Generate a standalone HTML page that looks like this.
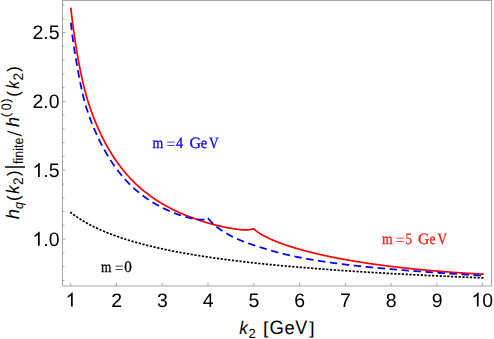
<!DOCTYPE html>
<html><head><meta charset="utf-8"><title>plot</title>
<style>
html,body{margin:0;padding:0;background:#fff;}
svg{display:block;}
text{text-rendering:geometricPrecision;}
</style></head><body>
<svg width="494" height="339" viewBox="0 0 494 339">
<rect x="0" y="0" width="494" height="339" fill="#fff"/>
<rect x="62.5" y="0.5" width="429.0" height="285.45" fill="none" stroke="#a6a6a6" stroke-width="1"/>
<g stroke="#777" stroke-width="0.6"><line x1="62.5" x2="64.5" y1="280.36" y2="280.36"/><line x1="62.5" x2="64.5" y1="266.59" y2="266.59"/><line x1="62.5" x2="64.5" y1="252.82" y2="252.82"/><line x1="62.5" x2="65.7" y1="239.05" y2="239.05"/><line x1="62.5" x2="64.5" y1="225.28" y2="225.28"/><line x1="62.5" x2="64.5" y1="211.51" y2="211.51"/><line x1="62.5" x2="64.5" y1="197.74" y2="197.74"/><line x1="62.5" x2="64.5" y1="183.97" y2="183.97"/><line x1="62.5" x2="65.7" y1="170.20" y2="170.20"/><line x1="62.5" x2="64.5" y1="156.43" y2="156.43"/><line x1="62.5" x2="64.5" y1="142.66" y2="142.66"/><line x1="62.5" x2="64.5" y1="128.89" y2="128.89"/><line x1="62.5" x2="64.5" y1="115.12" y2="115.12"/><line x1="62.5" x2="65.7" y1="101.35" y2="101.35"/><line x1="62.5" x2="64.5" y1="87.58" y2="87.58"/><line x1="62.5" x2="64.5" y1="73.81" y2="73.81"/><line x1="62.5" x2="64.5" y1="60.04" y2="60.04"/><line x1="62.5" x2="64.5" y1="46.27" y2="46.27"/><line x1="62.5" x2="65.7" y1="32.50" y2="32.50"/><line x1="62.5" x2="64.5" y1="18.73" y2="18.73"/><line x1="62.5" x2="64.5" y1="4.96" y2="4.96"/><line x1="70.70" x2="70.70" y1="285.95" y2="282.95"/><line x1="116.47" x2="116.47" y1="285.95" y2="282.95"/><line x1="162.24" x2="162.24" y1="285.95" y2="282.95"/><line x1="208.01" x2="208.01" y1="285.95" y2="282.95"/><line x1="253.78" x2="253.78" y1="285.95" y2="282.95"/><line x1="299.55" x2="299.55" y1="285.95" y2="282.95"/><line x1="345.32" x2="345.32" y1="285.95" y2="282.95"/><line x1="391.09" x2="391.09" y1="285.95" y2="282.95"/><line x1="436.86" x2="436.86" y1="285.95" y2="282.95"/><line x1="482.63" x2="482.63" y1="285.95" y2="282.95"/></g>
<g fill="none" stroke-linejoin="miter">
<path d="M70.75,7.70 L71.25,11.92 L71.75,16.02 L72.25,20.00 L72.75,23.86 L73.25,27.61 L73.75,31.25 L74.25,34.79 L74.75,38.23 L75.25,41.56 L75.75,44.80 L76.25,47.96 L76.75,51.02 L77.25,53.99 L77.75,56.89 L78.25,59.70 L78.75,62.43 L79.25,65.09 L79.75,67.67 L80.25,70.18 L80.75,72.62 L81.25,75.00 L81.75,77.30 L82.25,79.55 L82.75,81.73 L83.25,83.85 L83.75,85.92 L84.25,87.92 L84.75,89.87 L85.25,91.77 L85.75,93.62 L86.25,95.41 L86.75,97.16 L87.25,98.87 L87.75,100.53 L88.25,102.15 L88.75,103.73 L89.25,105.28 L89.75,106.79 L90.25,108.27 L90.75,109.72 L91.25,111.14 L91.75,112.53 L92.25,113.89 L92.75,115.23 L93.25,116.54 L93.75,117.83 L94.25,119.10 L94.75,120.34 L95.25,121.57 L95.75,122.78 L96.25,123.97 L96.75,125.14 L97.25,126.30 L97.75,127.44 L98.25,128.57 L98.75,129.68 L99.25,130.78 L99.75,131.86 L100.25,132.92 L100.75,133.98 L101.25,135.02 L101.75,136.04 L102.25,137.06 L102.75,138.06 L103.25,139.05 L103.75,140.02 L104.25,140.98 L104.75,141.94 L105.25,142.87 L105.75,143.80 L106.25,144.72 L106.75,145.62 L107.25,146.52 L107.75,147.40 L108.25,148.27 L108.75,149.13 L109.25,149.98 L109.75,150.83 L110.25,151.66 L110.75,152.48 L111.25,153.29 L111.75,154.09 L112.25,154.89 L112.75,155.67 L113.25,156.44 L113.75,157.21 L114.25,157.97 L114.75,158.72 L115.25,159.46 L115.75,160.19 L116.25,160.91 L116.75,161.63 L117.25,162.33 L117.75,163.03 L118.25,163.73 L118.75,164.41 L119.25,165.09 L119.75,165.76 L120.25,166.42 L120.75,167.07 L121.25,167.72 L121.75,168.36 L122.25,168.99 L122.75,169.62 L123.25,170.24 L123.75,170.86 L124.25,171.46 L124.75,172.06 L125.25,172.66 L125.75,173.25 L126.25,173.83 L126.75,174.40 L127.25,174.97 L127.75,175.54 L128.25,176.10 L128.75,176.65 L129.25,177.20 L129.75,177.74 L130.25,178.27 L130.75,178.80 L131.25,179.33 L131.75,179.85 L132.25,180.36 L132.75,180.87 L133.25,181.38 L133.75,181.87 L134.25,182.37 L134.75,182.86 L135.25,183.34 L135.75,183.82 L136.25,184.30 L136.75,184.77 L137.25,185.23 L137.75,185.69 L138.25,186.15 L138.75,186.60 L139.25,187.05 L139.75,187.49 L140.25,187.93 L140.75,188.36 L141.25,188.80 L141.75,189.22 L142.25,189.64 L142.75,190.06 L143.25,190.48 L143.75,190.89 L144.25,191.29 L144.75,191.70 L145.25,192.10 L145.75,192.49 L146.25,192.88 L146.75,193.27 L147.25,193.66 L147.75,194.04 L148.25,194.41 L148.75,194.79 L149.25,195.16 L149.75,195.53 L150.25,195.89 L150.75,196.25 L151.25,196.61 L151.75,196.96 L152.25,197.31 L152.75,197.66 L153.25,198.01 L153.75,198.35 L154.25,198.69 L154.75,199.02 L155.25,199.36 L155.75,199.69 L156.25,200.02 L156.75,200.34 L157.25,200.66 L157.75,200.98 L158.25,201.30 L158.75,201.61 L159.25,201.92 L159.75,202.23 L160.25,202.54 L160.75,202.84 L161.25,203.14 L161.75,203.44 L162.25,203.73 L162.75,204.03 L163.25,204.32 L163.75,204.60 L164.25,204.89 L164.75,205.17 L165.25,205.45 L165.75,205.73 L166.25,206.01 L166.75,206.28 L167.25,206.56 L167.75,206.83 L168.25,207.09 L168.75,207.36 L169.25,207.62 L169.75,207.88 L170.25,208.14 L170.75,208.40 L171.25,208.66 L171.75,208.91 L172.25,209.16 L172.75,209.41 L173.25,209.66 L173.75,209.90 L174.25,210.14 L174.75,210.39 L175.25,210.63 L175.75,210.86 L176.25,211.10 L176.75,211.33 L177.25,211.57 L177.75,211.80 L178.25,212.02 L178.75,212.25 L179.25,212.48 L179.75,212.70 L180.25,212.92 L180.75,213.14 L181.25,213.36 L181.75,213.58 L182.25,213.79 L182.75,214.00 L183.25,214.22 L183.75,214.43 L184.25,214.64 L184.75,214.84 L185.25,215.05 L185.75,215.25 L186.25,215.45 L186.75,215.66 L187.25,215.86 L187.75,216.05 L188.25,216.25 L188.75,216.45 L189.25,216.64 L189.75,216.83 L190.25,217.02 L190.75,217.21 L191.25,217.40 L191.75,217.59 L192.25,217.77 L192.75,217.96 L193.25,218.14 L193.75,218.32 L194.25,218.50 L194.75,218.68 L195.25,218.86 L195.75,219.03 L196.25,219.21 L196.75,219.38 L197.25,219.56 L197.75,219.73 L198.25,219.90 L198.75,220.07 L199.25,220.23 L199.75,220.40 L200.25,220.57 L200.75,220.73 L201.25,220.89 L201.75,221.06 L202.25,221.22 L202.75,221.38 L203.25,221.53 L203.75,221.69 L204.25,221.85 L204.75,222.00 L205.25,222.16 L205.75,222.31 L206.25,222.46 L206.75,222.61 L207.25,222.76 L207.75,222.90 L208.25,223.05 L208.75,223.20 L209.25,223.34 L209.75,223.48 L210.25,223.62 L210.75,223.76 L211.25,223.90 L211.75,224.04 L212.25,224.17 L212.75,224.31 L213.25,224.44 L213.75,224.57 L214.25,224.70 L214.75,224.83 L215.25,224.96 L215.75,225.09 L216.25,225.21 L216.75,225.34 L217.25,225.46 L217.75,225.58 L218.25,225.70 L218.75,225.82 L219.25,225.94 L219.75,226.05 L220.25,226.17 L220.75,226.28 L221.25,226.39 L221.75,226.50 L222.25,226.61 L222.75,226.72 L223.25,226.83 L223.75,226.93 L224.25,227.04 L224.75,227.14 L225.25,227.24 L225.75,227.34 L226.25,227.44 L226.75,227.54 L227.25,227.63 L227.75,227.73 L228.25,227.82 L228.75,227.91 L229.25,228.00 L229.75,228.09 L230.25,228.18 L230.75,228.26 L231.25,228.35 L231.75,228.43 L232.25,228.51 L232.75,228.59 L233.25,228.67 L233.75,228.75 L234.25,228.83 L234.75,228.90 L235.25,228.98 L235.75,229.05 L236.25,229.12 L236.75,229.19 L237.25,229.26 L237.75,229.33 L238.25,229.39 L238.75,229.46 L239.25,229.52 L239.75,229.58 L240.25,229.63 L240.75,229.68 L241.25,229.73 L241.75,229.78 L242.25,229.82 L242.75,229.85 L243.25,229.88 L243.75,229.90 L244.25,229.92 L244.75,229.93 L245.25,229.93 L245.75,229.93 L246.25,229.92 L246.75,229.91 L247.25,229.88 L247.75,229.85 L248.25,229.81 L248.75,229.76 L249.25,229.70 L249.75,229.63 L250.25,229.55 L250.75,229.47 L251.25,229.37 L251.75,229.26 L252.25,229.15 L252.75,229.02 L253.25,228.88 L253.75,228.73 L253.80,228.71 L254.30,229.20 L254.80,229.68 L255.30,230.12 L255.80,230.55 L256.30,230.96 L256.80,231.35 L257.30,231.73 L257.80,232.09 L258.30,232.45 L258.80,232.79 L259.30,233.12 L259.80,233.45 L260.30,233.76 L260.80,234.07 L261.30,234.38 L261.80,234.67 L262.30,234.97 L262.80,235.25 L263.30,235.53 L263.80,235.81 L264.30,236.08 L264.80,236.34 L265.30,236.60 L265.80,236.86 L266.30,237.11 L266.80,237.36 L267.30,237.61 L267.80,237.85 L268.30,238.09 L268.80,238.33 L269.30,238.56 L269.80,238.79 L270.30,239.02 L270.80,239.24 L271.30,239.47 L271.80,239.69 L272.30,239.90 L272.80,240.12 L273.30,240.33 L273.80,240.54 L274.30,240.75 L274.80,240.96 L275.30,241.16 L275.80,241.36 L276.30,241.56 L276.80,241.76 L277.30,241.96 L277.80,242.15 L278.30,242.34 L278.80,242.54 L279.30,242.73 L279.80,242.91 L280.30,243.10 L280.80,243.28 L281.30,243.47 L281.80,243.65 L282.30,243.83 L282.80,244.01 L283.30,244.18 L283.80,244.36 L284.30,244.53 L284.80,244.71 L285.30,244.88 L285.80,245.05 L286.30,245.22 L286.80,245.39 L287.30,245.55 L287.80,245.72 L288.30,245.88 L288.80,246.05 L289.30,246.21 L289.80,246.37 L290.30,246.53 L290.80,246.69 L291.30,246.85 L291.80,247.00 L292.30,247.16 L292.80,247.31 L293.30,247.47 L293.80,247.62 L294.30,247.77 L294.80,247.92 L295.30,248.07 L295.80,248.22 L296.30,248.37 L296.80,248.52 L297.30,248.66 L297.80,248.81 L298.30,248.95 L298.80,249.09 L299.30,249.24 L299.80,249.38 L300.30,249.52 L300.80,249.66 L301.30,249.80 L301.80,249.94 L302.30,250.07 L302.80,250.21 L303.30,250.35 L303.80,250.48 L304.30,250.62 L304.80,250.75 L305.30,250.88 L305.80,251.01 L306.30,251.15 L306.80,251.28 L307.30,251.41 L307.80,251.54 L308.30,251.66 L308.80,251.79 L309.30,251.92 L309.80,252.05 L310.30,252.17 L310.80,252.30 L311.30,252.42 L311.80,252.55 L312.30,252.67 L312.80,252.79 L313.30,252.91 L313.80,253.03 L314.30,253.15 L314.80,253.27 L315.30,253.39 L315.80,253.51 L316.30,253.63 L316.80,253.75 L317.30,253.87 L317.80,253.98 L318.30,254.10 L318.80,254.21 L319.30,254.33 L319.80,254.44 L320.30,254.56 L320.80,254.67 L321.30,254.78 L321.80,254.89 L322.30,255.00 L322.80,255.11 L323.30,255.22 L323.80,255.33 L324.30,255.44 L324.80,255.55 L325.30,255.66 L325.80,255.77 L326.30,255.87 L326.80,255.98 L327.30,256.09 L327.80,256.19 L328.30,256.30 L328.80,256.40 L329.30,256.51 L329.80,256.61 L330.30,256.71 L330.80,256.81 L331.30,256.92 L331.80,257.02 L332.30,257.12 L332.80,257.22 L333.30,257.32 L333.80,257.42 L334.30,257.52 L334.80,257.62 L335.30,257.72 L335.80,257.81 L336.30,257.91 L336.80,258.01 L337.30,258.11 L337.80,258.20 L338.30,258.30 L338.80,258.39 L339.30,258.49 L339.80,258.58 L340.30,258.67 L340.80,258.77 L341.30,258.86 L341.80,258.95 L342.30,259.05 L342.80,259.14 L343.30,259.23 L343.80,259.32 L344.30,259.41 L344.80,259.50 L345.30,259.59 L345.80,259.68 L346.30,259.77 L346.80,259.86 L347.30,259.95 L347.80,260.03 L348.30,260.12 L348.80,260.21 L349.30,260.30 L349.80,260.38 L350.30,260.47 L350.80,260.55 L351.30,260.64 L351.80,260.72 L352.30,260.81 L352.80,260.89 L353.30,260.98 L353.80,261.06 L354.30,261.14 L354.80,261.23 L355.30,261.31 L355.80,261.39 L356.30,261.47 L356.80,261.55 L357.30,261.63 L357.80,261.71 L358.30,261.79 L358.80,261.87 L359.30,261.95 L359.80,262.03 L360.30,262.11 L360.80,262.19 L361.30,262.27 L361.80,262.35 L362.30,262.43 L362.80,262.50 L363.30,262.58 L363.80,262.66 L364.30,262.73 L364.80,262.81 L365.30,262.88 L365.80,262.96 L366.30,263.03 L366.80,263.11 L367.30,263.18 L367.80,263.26 L368.30,263.33 L368.80,263.41 L369.30,263.48 L369.80,263.55 L370.30,263.62 L370.80,263.70 L371.30,263.77 L371.80,263.84 L372.30,263.91 L372.80,263.98 L373.30,264.05 L373.80,264.12 L374.30,264.19 L374.80,264.26 L375.30,264.33 L375.80,264.40 L376.30,264.47 L376.80,264.54 L377.30,264.61 L377.80,264.68 L378.30,264.75 L378.80,264.81 L379.30,264.88 L379.80,264.95 L380.30,265.02 L380.80,265.08 L381.30,265.15 L381.80,265.22 L382.30,265.28 L382.80,265.35 L383.30,265.41 L383.80,265.48 L384.30,265.54 L384.80,265.61 L385.30,265.67 L385.80,265.73 L386.30,265.80 L386.80,265.86 L387.30,265.93 L387.80,265.99 L388.30,266.05 L388.80,266.11 L389.30,266.18 L389.80,266.24 L390.30,266.30 L390.80,266.36 L391.30,266.42 L391.80,266.48 L392.30,266.54 L392.80,266.60 L393.30,266.66 L393.80,266.72 L394.30,266.78 L394.80,266.84 L395.30,266.90 L395.80,266.96 L396.30,267.02 L396.80,267.08 L397.30,267.14 L397.80,267.19 L398.30,267.25 L398.80,267.31 L399.30,267.37 L399.80,267.42 L400.30,267.48 L400.80,267.54 L401.30,267.59 L401.80,267.65 L402.30,267.71 L402.80,267.76 L403.30,267.82 L403.80,267.87 L404.30,267.93 L404.80,267.98 L405.30,268.04 L405.80,268.09 L406.30,268.15 L406.80,268.20 L407.30,268.25 L407.80,268.31 L408.30,268.36 L408.80,268.41 L409.30,268.47 L409.80,268.52 L410.30,268.57 L410.80,268.62 L411.30,268.68 L411.80,268.73 L412.30,268.78 L412.80,268.83 L413.30,268.88 L413.80,268.93 L414.30,268.98 L414.80,269.03 L415.30,269.08 L415.80,269.13 L416.30,269.18 L416.80,269.23 L417.30,269.28 L417.80,269.33 L418.30,269.38 L418.80,269.43 L419.30,269.48 L419.80,269.53 L420.30,269.58 L420.80,269.62 L421.30,269.67 L421.80,269.72 L422.30,269.77 L422.80,269.81 L423.30,269.86 L423.80,269.91 L424.30,269.95 L424.80,270.00 L425.30,270.05 L425.80,270.09 L426.30,270.14 L426.80,270.18 L427.30,270.23 L427.80,270.27 L428.30,270.32 L428.80,270.36 L429.30,270.41 L429.80,270.45 L430.30,270.50 L430.80,270.54 L431.30,270.59 L431.80,270.63 L432.30,270.67 L432.80,270.72 L433.30,270.76 L433.80,270.80 L434.30,270.85 L434.80,270.89 L435.30,270.93 L435.80,270.97 L436.30,271.01 L436.80,271.06 L437.30,271.10 L437.80,271.14 L438.30,271.18 L438.80,271.22 L439.30,271.26 L439.80,271.30 L440.30,271.34 L440.80,271.39 L441.30,271.43 L441.80,271.47 L442.30,271.51 L442.80,271.55 L443.30,271.58 L443.80,271.62 L444.30,271.66 L444.80,271.70 L445.30,271.74 L445.80,271.78 L446.30,271.82 L446.80,271.86 L447.30,271.89 L447.80,271.93 L448.30,271.97 L448.80,272.01 L449.30,272.05 L449.80,272.08 L450.30,272.12 L450.80,272.16 L451.30,272.19 L451.80,272.23 L452.30,272.27 L452.80,272.30 L453.30,272.34 L453.80,272.37 L454.30,272.41 L454.80,272.45 L455.30,272.48 L455.80,272.52 L456.30,272.55 L456.80,272.59 L457.30,272.62 L457.80,272.66 L458.30,272.69 L458.80,272.73 L459.30,272.76 L459.80,272.79 L460.30,272.83 L460.80,272.86 L461.30,272.89 L461.80,272.93 L462.30,272.96 L462.80,272.99 L463.30,273.03 L463.80,273.06 L464.30,273.09 L464.80,273.12 L465.30,273.16 L465.80,273.19 L466.30,273.22 L466.80,273.25 L467.30,273.28 L467.80,273.32 L468.30,273.35 L468.80,273.38 L469.30,273.41 L469.80,273.44 L470.30,273.47 L470.80,273.50 L471.30,273.53 L471.80,273.56 L472.30,273.59 L472.80,273.62 L473.30,273.65 L473.80,273.68 L474.30,273.71 L474.80,273.74 L475.30,273.77 L475.80,273.80 L476.30,273.83 L476.80,273.85 L477.30,273.88 L477.80,273.91 L478.30,273.94 L478.80,273.97 L479.30,274.00 L479.80,274.02 L480.30,274.05 L480.80,274.08 L481.30,274.11 L481.80,274.13 L482.30,274.16 L482.80,274.19 L483.30,274.21 L483.80,274.24" stroke="#ff0000" stroke-width="1.7"/>
<path d="M70.80,22.00 L71.30,26.67 L71.80,31.02 L72.30,35.09 L72.80,38.91 L73.30,42.53 L73.80,45.95 L74.30,49.23 L74.80,52.37 L75.30,55.41 L75.80,58.36 L76.30,61.24 L76.80,64.08 L77.30,66.89 L77.80,69.67 L78.30,72.41 L78.80,75.11 L79.30,77.76 L79.80,80.35 L80.30,82.88 L80.80,85.35 L81.30,87.74 L81.80,90.06 L82.30,92.29 L82.80,94.44 L83.30,96.51 L83.80,98.50 L84.30,100.41 L84.80,102.25 L85.30,104.03 L85.80,105.75 L86.30,107.41 L86.80,109.02 L87.30,110.58 L87.80,112.10 L88.30,113.57 L88.80,115.01 L89.30,116.41 L89.80,117.78 L90.30,119.12 L90.80,120.44 L91.30,121.73 L91.80,123.00 L92.30,124.24 L92.80,125.47 L93.30,126.69 L93.80,127.88 L94.30,129.06 L94.80,130.23 L95.30,131.38 L95.80,132.51 L96.30,133.63 L96.80,134.74 L97.30,135.83 L97.80,136.90 L98.30,137.97 L98.80,139.02 L99.30,140.05 L99.80,141.07 L100.30,142.08 L100.80,143.08 L101.30,144.06 L101.80,145.03 L102.30,145.99 L102.80,146.94 L103.30,147.87 L103.80,148.80 L104.30,149.71 L104.80,150.61 L105.30,151.50 L105.80,152.38 L106.30,153.25 L106.80,154.10 L107.30,154.95 L107.80,155.79 L108.30,156.62 L108.80,157.43 L109.30,158.24 L109.80,159.04 L110.30,159.82 L110.80,160.60 L111.30,161.37 L111.80,162.13 L112.30,162.88 L112.80,163.63 L113.30,164.36 L113.80,165.08 L114.30,165.80 L114.80,166.51 L115.30,167.21 L115.80,167.90 L116.30,168.58 L116.80,169.26 L117.30,169.93 L117.80,170.59 L118.30,171.24 L118.80,171.89 L119.30,172.52 L119.80,173.15 L120.30,173.78 L120.80,174.39 L121.30,175.00 L121.80,175.60 L122.30,176.20 L122.80,176.79 L123.30,177.37 L123.80,177.94 L124.30,178.51 L124.80,179.07 L125.30,179.63 L125.80,180.18 L126.30,180.72 L126.80,181.26 L127.30,181.79 L127.80,182.32 L128.30,182.84 L128.80,183.35 L129.30,183.86 L129.80,184.36 L130.30,184.86 L130.80,185.35 L131.30,185.83 L131.80,186.31 L132.30,186.79 L132.80,187.26 L133.30,187.72 L133.80,188.18 L134.30,188.64 L134.80,189.08 L135.30,189.53 L135.80,189.97 L136.30,190.40 L136.80,190.83 L137.30,191.26 L137.80,191.68 L138.30,192.09 L138.80,192.50 L139.30,192.91 L139.80,193.31 L140.30,193.71 L140.80,194.10 L141.30,194.49 L141.80,194.88 L142.30,195.26 L142.80,195.64 L143.30,196.01 L143.80,196.38 L144.30,196.75 L144.80,197.11 L145.30,197.47 L145.80,197.82 L146.30,198.17 L146.80,198.52 L147.30,198.86 L147.80,199.20 L148.30,199.54 L148.80,199.87 L149.30,200.20 L149.80,200.52 L150.30,200.85 L150.80,201.17 L151.30,201.48 L151.80,201.79 L152.30,202.10 L152.80,202.41 L153.30,202.71 L153.80,203.01 L154.30,203.31 L154.80,203.60 L155.30,203.89 L155.80,204.18 L156.30,204.47 L156.80,204.75 L157.30,205.03 L157.80,205.31 L158.30,205.58 L158.80,205.85 L159.30,206.12 L159.80,206.38 L160.30,206.65 L160.80,206.91 L161.30,207.17 L161.80,207.42 L162.30,207.67 L162.80,207.92 L163.30,208.17 L163.80,208.42 L164.30,208.66 L164.80,208.90 L165.30,209.14 L165.80,209.37 L166.30,209.61 L166.80,209.84 L167.30,210.07 L167.80,210.29 L168.30,210.52 L168.80,210.74 L169.30,210.96 L169.80,211.18 L170.30,211.39 L170.80,211.61 L171.30,211.82 L171.80,212.03 L172.30,212.23 L172.80,212.44 L173.30,212.64 L173.80,212.84 L174.30,213.04 L174.80,213.24 L175.30,213.43 L175.80,213.63 L176.30,213.82 L176.80,214.01 L177.30,214.19 L177.80,214.38 L178.30,214.56 L178.80,214.74 L179.30,214.92 L179.80,215.09 L180.30,215.26 L180.80,215.43 L181.30,215.60 L181.80,215.76 L182.30,215.92 L182.80,216.08 L183.30,216.24 L183.80,216.39 L184.30,216.54 L184.80,216.68 L185.30,216.83 L185.80,216.97 L186.30,217.11 L186.80,217.24 L187.30,217.37 L187.80,217.50 L188.30,217.63 L188.80,217.75 L189.30,217.87 L189.80,217.98 L190.30,218.10 L190.80,218.20 L191.30,218.31 L191.80,218.41 L192.30,218.51 L192.80,218.61 L193.30,218.70 L193.80,218.79 L194.30,218.87 L194.80,218.96 L195.30,219.03 L195.80,219.11 L196.30,219.18 L196.80,219.25 L197.30,219.31 L197.80,219.37 L198.30,219.43 L198.80,219.48 L199.30,219.52 L199.80,219.55 L200.30,219.58 L200.80,219.60 L201.30,219.60 L201.80,219.60 L202.30,219.58 L202.80,219.55 L203.30,219.50 L203.80,219.44 L204.30,219.36 L204.80,219.27 L205.30,219.16 L205.80,219.03 L206.30,218.88 L206.80,218.70 L207.30,218.49 L207.80,218.26 L208.00,218.15" stroke="#0000ff" stroke-width="1.75" stroke-dasharray="7.5 4.52" stroke-dashoffset="-0.7"/>
<path d="M208.00,218.10 L208.50,218.74 L209.00,219.36 L209.50,219.95 L210.00,220.52 L210.50,221.08 L211.00,221.61 L211.50,222.13 L212.00,222.64 L212.50,223.13 L213.00,223.61 L213.50,224.08 L214.00,224.53 L214.50,224.98 L215.00,225.41 L215.50,225.84 L216.00,226.26 L216.50,226.67 L217.00,227.07 L217.50,227.46 L218.00,227.84 L218.50,228.22 L219.00,228.59 L219.50,228.96 L220.00,229.31 L220.50,229.66 L221.00,230.01 L221.50,230.34 L222.00,230.68 L222.50,231.00 L223.00,231.33 L223.50,231.64 L224.00,231.95 L224.50,232.26 L225.00,232.57 L225.50,232.87 L226.00,233.16 L226.50,233.45 L227.00,233.74 L227.50,234.03 L228.00,234.31 L228.50,234.59 L229.00,234.87 L229.50,235.14 L230.00,235.41 L230.50,235.67 L231.00,235.93 L231.50,236.19 L232.00,236.45 L232.50,236.70 L233.00,236.95 L233.50,237.20 L234.00,237.44 L234.50,237.68 L235.00,237.92 L235.50,238.15 L236.00,238.38 L236.50,238.61 L237.00,238.84 L237.50,239.06 L238.00,239.28 L238.50,239.49 L239.00,239.71 L239.50,239.92 L240.00,240.12 L240.50,240.33 L241.00,240.53 L241.50,240.74 L242.00,240.93 L242.50,241.13 L243.00,241.33 L243.50,241.52 L244.00,241.71 L244.50,241.90 L245.00,242.09 L245.50,242.27 L246.00,242.46 L246.50,242.64 L247.00,242.82 L247.50,243.00 L248.00,243.18 L248.50,243.35 L249.00,243.53 L249.50,243.70 L250.00,243.88 L250.50,244.05 L251.00,244.22 L251.50,244.39 L252.00,244.56 L252.50,244.73 L253.00,244.89 L253.50,245.06 L254.00,245.23 L254.50,245.39 L255.00,245.55 L255.50,245.72 L256.00,245.88 L256.50,246.04 L257.00,246.20 L257.50,246.36 L258.00,246.52 L258.50,246.68 L259.00,246.84 L259.50,247.00 L260.00,247.16 L260.50,247.32 L261.00,247.48 L261.50,247.64 L262.00,247.79 L262.50,247.95 L263.00,248.11 L263.50,248.26 L264.00,248.42 L264.50,248.57 L265.00,248.73 L265.50,248.88 L266.00,249.04 L266.50,249.19 L267.00,249.34 L267.50,249.49 L268.00,249.65 L268.50,249.80 L269.00,249.95 L269.50,250.09 L270.00,250.24 L270.50,250.39 L271.00,250.54 L271.50,250.68 L272.00,250.83 L272.50,250.97 L273.00,251.11 L273.50,251.26 L274.00,251.40 L274.50,251.54 L275.00,251.68 L275.50,251.82 L276.00,251.95 L276.50,252.09 L277.00,252.23 L277.50,252.36 L278.00,252.49 L278.50,252.63 L279.00,252.76 L279.50,252.89 L280.00,253.02 L280.50,253.15 L281.00,253.27 L281.50,253.40 L282.00,253.53 L282.50,253.65 L283.00,253.77 L283.50,253.90 L284.00,254.02 L284.50,254.14 L285.00,254.26 L285.50,254.38 L286.00,254.50 L286.50,254.62 L287.00,254.74 L287.50,254.85 L288.00,254.97 L288.50,255.08 L289.00,255.20 L289.50,255.31 L290.00,255.42 L290.50,255.53 L291.00,255.64 L291.50,255.75 L292.00,255.86 L292.50,255.97 L293.00,256.08 L293.50,256.19 L294.00,256.29 L294.50,256.40 L295.00,256.50 L295.50,256.61 L296.00,256.71 L296.50,256.82 L297.00,256.92 L297.50,257.02 L298.00,257.12 L298.50,257.22 L299.00,257.32 L299.50,257.42 L300.00,257.52 L300.50,257.62 L301.00,257.72 L301.50,257.81 L302.00,257.91 L302.50,258.00 L303.00,258.10 L303.50,258.19 L304.00,258.29 L304.50,258.38 L305.00,258.47 L305.50,258.57 L306.00,258.66 L306.50,258.75 L307.00,258.84 L307.50,258.93 L308.00,259.02 L308.50,259.11 L309.00,259.20 L309.50,259.28 L310.00,259.37 L310.50,259.46 L311.00,259.54 L311.50,259.63 L312.00,259.72 L312.50,259.80 L313.00,259.89 L313.50,259.97 L314.00,260.05 L314.50,260.14 L315.00,260.22 L315.50,260.30 L316.00,260.38 L316.50,260.46 L317.00,260.54 L317.50,260.62 L318.00,260.70 L318.50,260.78 L319.00,260.86 L319.50,260.94 L320.00,261.02 L320.50,261.10 L321.00,261.17 L321.50,261.25 L322.00,261.33 L322.50,261.40 L323.00,261.48 L323.50,261.55 L324.00,261.63 L324.50,261.70 L325.00,261.78 L325.50,261.85 L326.00,261.93 L326.50,262.00 L327.00,262.07 L327.50,262.14 L328.00,262.22 L328.50,262.29 L329.00,262.36 L329.50,262.43 L330.00,262.50 L330.50,262.57 L331.00,262.64 L331.50,262.71 L332.00,262.78 L332.50,262.85 L333.00,262.91 L333.50,262.98 L334.00,263.05 L334.50,263.12 L335.00,263.18 L335.50,263.25 L336.00,263.32 L336.50,263.38 L337.00,263.45 L337.50,263.51 L338.00,263.58 L338.50,263.64 L339.00,263.71 L339.50,263.77 L340.00,263.84 L340.50,263.90 L341.00,263.96 L341.50,264.03 L342.00,264.09 L342.50,264.15 L343.00,264.21 L343.50,264.28 L344.00,264.34 L344.50,264.40 L345.00,264.46 L345.50,264.52 L346.00,264.58 L346.50,264.64 L347.00,264.70 L347.50,264.76 L348.00,264.82 L348.50,264.88 L349.00,264.94 L349.50,265.00 L350.00,265.06 L350.50,265.11 L351.00,265.17 L351.50,265.23 L352.00,265.29 L352.50,265.34 L353.00,265.40 L353.50,265.46 L354.00,265.52 L354.50,265.57 L355.00,265.63 L355.50,265.68 L356.00,265.74 L356.50,265.79 L357.00,265.85 L357.50,265.90 L358.00,265.96 L358.50,266.01 L359.00,266.07 L359.50,266.12 L360.00,266.17 L360.50,266.23 L361.00,266.28 L361.50,266.33 L362.00,266.39 L362.50,266.44 L363.00,266.49 L363.50,266.55 L364.00,266.60 L364.50,266.65 L365.00,266.70 L365.50,266.75 L366.00,266.80 L366.50,266.85 L367.00,266.91 L367.50,266.96 L368.00,267.01 L368.50,267.06 L369.00,267.11 L369.50,267.16 L370.00,267.21 L370.50,267.26 L371.00,267.31 L371.50,267.36 L372.00,267.40 L372.50,267.45 L373.00,267.50 L373.50,267.55 L374.00,267.60 L374.50,267.65 L375.00,267.69 L375.50,267.74 L376.00,267.79 L376.50,267.84 L377.00,267.89 L377.50,267.93 L378.00,267.98 L378.50,268.03 L379.00,268.07 L379.50,268.12 L380.00,268.17 L380.50,268.21 L381.00,268.26 L381.50,268.30 L382.00,268.35 L382.50,268.40 L383.00,268.44 L383.50,268.49 L384.00,268.53 L384.50,268.58 L385.00,268.62 L385.50,268.67 L386.00,268.71 L386.50,268.76 L387.00,268.80 L387.50,268.84 L388.00,268.89 L388.50,268.93 L389.00,268.98 L389.50,269.02 L390.00,269.06 L390.50,269.11 L391.00,269.15 L391.50,269.19 L392.00,269.24 L392.50,269.28 L393.00,269.32 L393.50,269.36 L394.00,269.41 L394.50,269.45 L395.00,269.49 L395.50,269.53 L396.00,269.57 L396.50,269.62 L397.00,269.66 L397.50,269.70 L398.00,269.74 L398.50,269.78 L399.00,269.82 L399.50,269.87 L400.00,269.91 L400.50,269.95 L401.00,269.99 L401.50,270.03 L402.00,270.07 L402.50,270.11 L403.00,270.15 L403.50,270.19 L404.00,270.23 L404.50,270.27 L405.00,270.31 L405.50,270.35 L406.00,270.39 L406.50,270.43 L407.00,270.47 L407.50,270.51 L408.00,270.55 L408.50,270.59 L409.00,270.63 L409.50,270.67 L410.00,270.70 L410.50,270.74 L411.00,270.78 L411.50,270.82 L412.00,270.86 L412.50,270.90 L413.00,270.94 L413.50,270.97 L414.00,271.01 L414.50,271.05 L415.00,271.09 L415.50,271.13 L416.00,271.16 L416.50,271.20 L417.00,271.24 L417.50,271.28 L418.00,271.32 L418.50,271.35 L419.00,271.39 L419.50,271.43 L420.00,271.46 L420.50,271.50 L421.00,271.54 L421.50,271.58 L422.00,271.61 L422.50,271.65 L423.00,271.69 L423.50,271.72 L424.00,271.76 L424.50,271.80 L425.00,271.83 L425.50,271.87 L426.00,271.90 L426.50,271.94 L427.00,271.98 L427.50,272.01 L428.00,272.05 L428.50,272.08 L429.00,272.12 L429.50,272.16 L430.00,272.19 L430.50,272.23 L431.00,272.26 L431.50,272.30 L432.00,272.33 L432.50,272.37 L433.00,272.40 L433.50,272.44 L434.00,272.48 L434.50,272.51 L435.00,272.55 L435.50,272.58 L436.00,272.62 L436.50,272.65 L437.00,272.68 L437.50,272.72 L438.00,272.75 L438.50,272.79 L439.00,272.82 L439.50,272.86 L440.00,272.89 L440.50,272.93 L441.00,272.96 L441.50,273.00 L442.00,273.03 L442.50,273.06 L443.00,273.10 L443.50,273.13 L444.00,273.17 L444.50,273.20 L445.00,273.23 L445.50,273.27 L446.00,273.30 L446.50,273.34 L447.00,273.37 L447.50,273.40 L448.00,273.44 L448.50,273.47 L449.00,273.50 L449.50,273.54 L450.00,273.57 L450.50,273.60 L451.00,273.64 L451.50,273.67 L452.00,273.70 L452.50,273.74 L453.00,273.77 L453.50,273.80 L454.00,273.84 L454.50,273.87 L455.00,273.90 L455.50,273.94 L456.00,273.97 L456.50,274.00 L457.00,274.03 L457.50,274.07 L458.00,274.10 L458.50,274.13 L459.00,274.17 L459.50,274.20 L460.00,274.23 L460.50,274.26 L461.00,274.30 L461.50,274.33 L462.00,274.36 L462.50,274.39 L463.00,274.43 L463.50,274.46 L464.00,274.49 L464.50,274.52 L465.00,274.55 L465.50,274.59 L466.00,274.62 L466.50,274.65 L467.00,274.68 L467.50,274.72 L468.00,274.75 L468.50,274.78 L469.00,274.81 L469.50,274.84 L470.00,274.88 L470.50,274.91 L471.00,274.94 L471.50,274.97 L472.00,275.00 L472.50,275.04 L473.00,275.07 L473.50,275.10 L474.00,275.13 L474.50,275.16 L475.00,275.19 L475.50,275.23 L476.00,275.26 L476.50,275.29 L477.00,275.32 L477.50,275.35 L478.00,275.38 L478.50,275.42 L479.00,275.45 L479.50,275.48 L480.00,275.51 L480.50,275.54 L481.00,275.57 L481.50,275.60 L482.00,275.64 L482.50,275.67 L483.00,275.70" stroke="#0000ff" stroke-width="1.75" stroke-dasharray="7.5 4.51"/>
<path d="M70.20,212.09 L70.70,212.48 L71.20,212.87 L71.70,213.25 L72.20,213.63 L72.70,214.00 L73.20,214.37 L73.70,214.73 L74.20,215.09 L74.70,215.45 L75.20,215.80 L75.70,216.15 L76.20,216.50 L76.70,216.84 L77.20,217.18 L77.70,217.51 L78.20,217.84 L78.70,218.17 L79.20,218.49 L79.70,218.82 L80.20,219.13 L80.70,219.45 L81.20,219.76 L81.70,220.07 L82.20,220.38 L82.70,220.68 L83.20,220.98 L83.70,221.28 L84.20,221.57 L84.70,221.86 L85.20,222.15 L85.70,222.44 L86.20,222.72 L86.70,223.00 L87.20,223.28 L87.70,223.55 L88.20,223.83 L88.70,224.10 L89.20,224.37 L89.70,224.63 L90.20,224.90 L90.70,225.16 L91.20,225.42 L91.70,225.68 L92.20,225.93 L92.70,226.18 L93.20,226.43 L93.70,226.68 L94.20,226.93 L94.70,227.17 L95.20,227.42 L95.70,227.66 L96.20,227.89 L96.70,228.13 L97.20,228.37 L97.70,228.60 L98.20,228.83 L98.70,229.06 L99.20,229.29 L99.70,229.51 L100.20,229.74 L100.70,229.96 L101.20,230.18 L101.70,230.40 L102.20,230.62 L102.70,230.83 L103.20,231.05 L103.70,231.26 L104.20,231.47 L104.70,231.68 L105.20,231.89 L105.70,232.09 L106.20,232.30 L106.70,232.50 L107.20,232.70 L107.70,232.90 L108.20,233.10 L108.70,233.30 L109.20,233.50 L109.70,233.69 L110.20,233.89 L110.70,234.08 L111.20,234.27 L111.70,234.46 L112.20,234.65 L112.70,234.83 L113.20,235.02 L113.70,235.20 L114.20,235.39 L114.70,235.57 L115.20,235.75 L115.70,235.93 L116.20,236.11 L116.70,236.29 L117.20,236.46 L117.70,236.64 L118.20,236.81 L118.70,236.99 L119.20,237.16 L119.70,237.33 L120.20,237.50 L120.70,237.67 L121.20,237.83 L121.70,238.00 L122.20,238.17 L122.70,238.33 L123.20,238.49 L123.70,238.66 L124.20,238.82 L124.70,238.98 L125.20,239.14 L125.70,239.30 L126.20,239.45 L126.70,239.61 L127.20,239.77 L127.70,239.92 L128.20,240.08 L128.70,240.23 L129.20,240.38 L129.70,240.53 L130.20,240.68 L130.70,240.83 L131.20,240.98 L131.70,241.13 L132.20,241.28 L132.70,241.42 L133.20,241.57 L133.70,241.71 L134.20,241.86 L134.70,242.00 L135.20,242.14 L135.70,242.28 L136.20,242.42 L136.70,242.56 L137.20,242.70 L137.70,242.84 L138.20,242.98 L138.70,243.12 L139.20,243.25 L139.70,243.39 L140.20,243.52 L140.70,243.66 L141.20,243.79 L141.70,243.92 L142.20,244.05 L142.70,244.19 L143.20,244.32 L143.70,244.45 L144.20,244.58 L144.70,244.70 L145.20,244.83 L145.70,244.96 L146.20,245.09 L146.70,245.21 L147.20,245.34 L147.70,245.46 L148.20,245.59 L148.70,245.71 L149.20,245.83 L149.70,245.95 L150.20,246.08 L150.70,246.20 L151.20,246.32 L151.70,246.44 L152.20,246.56 L152.70,246.67 L153.20,246.79 L153.70,246.91 L154.20,247.03 L154.70,247.14 L155.20,247.26 L155.70,247.37 L156.20,247.49 L156.70,247.60 L157.20,247.72 L157.70,247.83 L158.20,247.94 L158.70,248.05 L159.20,248.16 L159.70,248.28 L160.20,248.39 L160.70,248.50 L161.20,248.61 L161.70,248.71 L162.20,248.82 L162.70,248.93 L163.20,249.04 L163.70,249.14 L164.20,249.25 L164.70,249.36 L165.20,249.46 L165.70,249.57 L166.20,249.67 L166.70,249.78 L167.20,249.88 L167.70,249.98 L168.20,250.08 L168.70,250.19 L169.20,250.29 L169.70,250.39 L170.20,250.49 L170.70,250.59 L171.20,250.69 L171.70,250.79 L172.20,250.89 L172.70,250.99 L173.20,251.09 L173.70,251.18 L174.20,251.28 L174.70,251.38 L175.20,251.48 L175.70,251.57 L176.20,251.67 L176.70,251.76 L177.20,251.86 L177.70,251.95 L178.20,252.05 L178.70,252.14 L179.20,252.23 L179.70,252.33 L180.20,252.42 L180.70,252.51 L181.20,252.60 L181.70,252.69 L182.20,252.79 L182.70,252.88 L183.20,252.97 L183.70,253.06 L184.20,253.15 L184.70,253.23 L185.20,253.32 L185.70,253.41 L186.20,253.50 L186.70,253.59 L187.20,253.68 L187.70,253.76 L188.20,253.85 L188.70,253.94 L189.20,254.02 L189.70,254.11 L190.20,254.19 L190.70,254.28 L191.20,254.36 L191.70,254.45 L192.20,254.53 L192.70,254.61 L193.20,254.70 L193.70,254.78 L194.20,254.86 L194.70,254.95 L195.20,255.03 L195.70,255.11 L196.20,255.19 L196.70,255.27 L197.20,255.35 L197.70,255.43 L198.20,255.51 L198.70,255.59 L199.20,255.67 L199.70,255.75 L200.20,255.83 L200.70,255.91 L201.20,255.99 L201.70,256.07 L202.20,256.14 L202.70,256.22 L203.20,256.30 L203.70,256.38 L204.20,256.45 L204.70,256.53 L205.20,256.60 L205.70,256.68 L206.20,256.76 L206.70,256.83 L207.20,256.91 L207.70,256.98 L208.20,257.06 L208.70,257.13 L209.20,257.20 L209.70,257.28 L210.20,257.35 L210.70,257.42 L211.20,257.50 L211.70,257.57 L212.20,257.64 L212.70,257.71 L213.20,257.79 L213.70,257.86 L214.20,257.93 L214.70,258.00 L215.20,258.07 L215.70,258.14 L216.20,258.21 L216.70,258.28 L217.20,258.35 L217.70,258.42 L218.20,258.49 L218.70,258.56 L219.20,258.63 L219.70,258.70 L220.20,258.76 L220.70,258.83 L221.20,258.90 L221.70,258.97 L222.20,259.03 L222.70,259.10 L223.20,259.17 L223.70,259.24 L224.20,259.30 L224.70,259.37 L225.20,259.43 L225.70,259.50 L226.20,259.57 L226.70,259.63 L227.20,259.70 L227.70,259.76 L228.20,259.83 L228.70,259.89 L229.20,259.95 L229.70,260.02 L230.20,260.08 L230.70,260.15 L231.20,260.21 L231.70,260.27 L232.20,260.34 L232.70,260.40 L233.20,260.46 L233.70,260.52 L234.20,260.59 L234.70,260.65 L235.20,260.71 L235.70,260.77 L236.20,260.83 L236.70,260.89 L237.20,260.95 L237.70,261.01 L238.20,261.08 L238.70,261.14 L239.20,261.20 L239.70,261.26 L240.20,261.32 L240.70,261.37 L241.20,261.43 L241.70,261.49 L242.20,261.55 L242.70,261.61 L243.20,261.67 L243.70,261.73 L244.20,261.79 L244.70,261.84 L245.20,261.90 L245.70,261.96 L246.20,262.02 L246.70,262.08 L247.20,262.13 L247.70,262.19 L248.20,262.25 L248.70,262.30 L249.20,262.36 L249.70,262.42 L250.20,262.47 L250.70,262.53 L251.20,262.58 L251.70,262.64 L252.20,262.69 L252.70,262.75 L253.20,262.80 L253.70,262.86 L254.20,262.91 L254.70,262.97 L255.20,263.02 L255.70,263.08 L256.20,263.13 L256.70,263.18 L257.20,263.24 L257.70,263.29 L258.20,263.35 L258.70,263.40 L259.20,263.45 L259.70,263.50 L260.20,263.56 L260.70,263.61 L261.20,263.66 L261.70,263.71 L262.20,263.77 L262.70,263.82 L263.20,263.87 L263.70,263.92 L264.20,263.97 L264.70,264.02 L265.20,264.08 L265.70,264.13 L266.20,264.18 L266.70,264.23 L267.20,264.28 L267.70,264.33 L268.20,264.38 L268.70,264.43 L269.20,264.48 L269.70,264.53 L270.20,264.58 L270.70,264.63 L271.20,264.68 L271.70,264.73 L272.20,264.78 L272.70,264.83 L273.20,264.87 L273.70,264.92 L274.20,264.97 L274.70,265.02 L275.20,265.07 L275.70,265.12 L276.20,265.17 L276.70,265.21 L277.20,265.26 L277.70,265.31 L278.20,265.36 L278.70,265.40 L279.20,265.45 L279.70,265.50 L280.20,265.54 L280.70,265.59 L281.20,265.64 L281.70,265.68 L282.20,265.73 L282.70,265.78 L283.20,265.82 L283.70,265.87 L284.20,265.92 L284.70,265.96 L285.20,266.01 L285.70,266.05 L286.20,266.10 L286.70,266.14 L287.20,266.19 L287.70,266.23 L288.20,266.28 L288.70,266.32 L289.20,266.37 L289.70,266.41 L290.20,266.46 L290.70,266.50 L291.20,266.55 L291.70,266.59 L292.20,266.63 L292.70,266.68 L293.20,266.72 L293.70,266.76 L294.20,266.81 L294.70,266.85 L295.20,266.89 L295.70,266.94 L296.20,266.98 L296.70,267.02 L297.20,267.07 L297.70,267.11 L298.20,267.15 L298.70,267.19 L299.20,267.24 L299.70,267.28 L300.20,267.32 L300.70,267.36 L301.20,267.41 L301.70,267.45 L302.20,267.49 L302.70,267.53 L303.20,267.57 L303.70,267.61 L304.20,267.65 L304.70,267.70 L305.20,267.74 L305.70,267.78 L306.20,267.82 L306.70,267.86 L307.20,267.90 L307.70,267.94 L308.20,267.98 L308.70,268.02 L309.20,268.06 L309.70,268.10 L310.20,268.14 L310.70,268.18 L311.20,268.22 L311.70,268.26 L312.20,268.30 L312.70,268.34 L313.20,268.38 L313.70,268.42 L314.20,268.46 L314.70,268.50 L315.20,268.54 L315.70,268.58 L316.20,268.62 L316.70,268.65 L317.20,268.69 L317.70,268.73 L318.20,268.77 L318.70,268.81 L319.20,268.85 L319.70,268.88 L320.20,268.92 L320.70,268.96 L321.20,269.00 L321.70,269.04 L322.20,269.07 L322.70,269.11 L323.20,269.15 L323.70,269.19 L324.20,269.22 L324.70,269.26 L325.20,269.30 L325.70,269.34 L326.20,269.37 L326.70,269.41 L327.20,269.45 L327.70,269.48 L328.20,269.52 L328.70,269.56 L329.20,269.59 L329.70,269.63 L330.20,269.67 L330.70,269.70 L331.20,269.74 L331.70,269.78 L332.20,269.81 L332.70,269.85 L333.20,269.88 L333.70,269.92 L334.20,269.95 L334.70,269.99 L335.20,270.03 L335.70,270.06 L336.20,270.10 L336.70,270.13 L337.20,270.17 L337.70,270.20 L338.20,270.24 L338.70,270.27 L339.20,270.31 L339.70,270.34 L340.20,270.38 L340.70,270.41 L341.20,270.45 L341.70,270.48 L342.20,270.51 L342.70,270.55 L343.20,270.58 L343.70,270.62 L344.20,270.65 L344.70,270.69 L345.20,270.72 L345.70,270.75 L346.20,270.79 L346.70,270.82 L347.20,270.85 L347.70,270.89 L348.20,270.92 L348.70,270.95 L349.20,270.99 L349.70,271.02 L350.20,271.05 L350.70,271.09 L351.20,271.12 L351.70,271.15 L352.20,271.19 L352.70,271.22 L353.20,271.25 L353.70,271.28 L354.20,271.32 L354.70,271.35 L355.20,271.38 L355.70,271.41 L356.20,271.45 L356.70,271.48 L357.20,271.51 L357.70,271.54 L358.20,271.58 L358.70,271.61 L359.20,271.64 L359.70,271.67 L360.20,271.70 L360.70,271.74 L361.20,271.77 L361.70,271.80 L362.20,271.83 L362.70,271.86 L363.20,271.89 L363.70,271.92 L364.20,271.96 L364.70,271.99 L365.20,272.02 L365.70,272.05 L366.20,272.08 L366.70,272.11 L367.20,272.14 L367.70,272.17 L368.20,272.20 L368.70,272.23 L369.20,272.26 L369.70,272.29 L370.20,272.32 L370.70,272.36 L371.20,272.39 L371.70,272.42 L372.20,272.45 L372.70,272.48 L373.20,272.51 L373.70,272.54 L374.20,272.57 L374.70,272.60 L375.20,272.63 L375.70,272.66 L376.20,272.69 L376.70,272.72 L377.20,272.74 L377.70,272.77 L378.20,272.80 L378.70,272.83 L379.20,272.86 L379.70,272.89 L380.20,272.92 L380.70,272.95 L381.20,272.98 L381.70,273.01 L382.20,273.04 L382.70,273.07 L383.20,273.10 L383.70,273.12 L384.20,273.15 L384.70,273.18 L385.20,273.21 L385.70,273.24 L386.20,273.27 L386.70,273.30 L387.20,273.32 L387.70,273.35 L388.20,273.38 L388.70,273.41 L389.20,273.44 L389.70,273.47 L390.20,273.49 L390.70,273.52 L391.20,273.55 L391.70,273.58 L392.20,273.61 L392.70,273.63 L393.20,273.66 L393.70,273.69 L394.20,273.72 L394.70,273.74 L395.20,273.77 L395.70,273.80 L396.20,273.83 L396.70,273.85 L397.20,273.88 L397.70,273.91 L398.20,273.94 L398.70,273.96 L399.20,273.99 L399.70,274.02 L400.20,274.04 L400.70,274.07 L401.20,274.10 L401.70,274.12 L402.20,274.15 L402.70,274.18 L403.20,274.20 L403.70,274.23 L404.20,274.26 L404.70,274.28 L405.20,274.31 L405.70,274.34 L406.20,274.36 L406.70,274.39 L407.20,274.42 L407.70,274.44 L408.20,274.47 L408.70,274.49 L409.20,274.52 L409.70,274.55 L410.20,274.57 L410.70,274.60 L411.20,274.62 L411.70,274.65 L412.20,274.68 L412.70,274.70 L413.20,274.73 L413.70,274.75 L414.20,274.78 L414.70,274.80 L415.20,274.83 L415.70,274.86 L416.20,274.88 L416.70,274.91 L417.20,274.93 L417.70,274.96 L418.20,274.98 L418.70,275.01 L419.20,275.03 L419.70,275.06 L420.20,275.08 L420.70,275.11 L421.20,275.13 L421.70,275.16 L422.20,275.18 L422.70,275.21 L423.20,275.23 L423.70,275.26 L424.20,275.28 L424.70,275.31 L425.20,275.33 L425.70,275.35 L426.20,275.38 L426.70,275.40 L427.20,275.43 L427.70,275.45 L428.20,275.48 L428.70,275.50 L429.20,275.53 L429.70,275.55 L430.20,275.57 L430.70,275.60 L431.20,275.62 L431.70,275.65 L432.20,275.67 L432.70,275.69 L433.20,275.72 L433.70,275.74 L434.20,275.77 L434.70,275.79 L435.20,275.81 L435.70,275.84 L436.20,275.86 L436.70,275.88 L437.20,275.91 L437.70,275.93 L438.20,275.95 L438.70,275.98 L439.20,276.00 L439.70,276.02 L440.20,276.05 L440.70,276.07 L441.20,276.09 L441.70,276.12 L442.20,276.14 L442.70,276.16 L443.20,276.19 L443.70,276.21 L444.20,276.23 L444.70,276.26 L445.20,276.28 L445.70,276.30 L446.20,276.32 L446.70,276.35 L447.20,276.37 L447.70,276.39 L448.20,276.41 L448.70,276.44 L449.20,276.46 L449.70,276.48 L450.20,276.51 L450.70,276.53 L451.20,276.55 L451.70,276.57 L452.20,276.59 L452.70,276.62 L453.20,276.64 L453.70,276.66 L454.20,276.68 L454.70,276.71 L455.20,276.73 L455.70,276.75 L456.20,276.77 L456.70,276.79 L457.20,276.82 L457.70,276.84 L458.20,276.86 L458.70,276.88 L459.20,276.90 L459.70,276.93 L460.20,276.95 L460.70,276.97 L461.20,276.99 L461.70,277.01 L462.20,277.03 L462.70,277.06 L463.20,277.08 L463.70,277.10 L464.20,277.12 L464.70,277.14 L465.20,277.16 L465.70,277.18 L466.20,277.21 L466.70,277.23 L467.20,277.25 L467.70,277.27 L468.20,277.29 L468.70,277.31 L469.20,277.33 L469.70,277.35 L470.20,277.37 L470.70,277.40 L471.20,277.42 L471.70,277.44 L472.20,277.46 L472.70,277.48 L473.20,277.50 L473.70,277.52 L474.20,277.54 L474.70,277.56 L475.20,277.58 L475.70,277.60 L476.20,277.62 L476.70,277.65 L477.20,277.67 L477.70,277.69 L478.20,277.71 L478.70,277.73 L479.20,277.75 L479.70,277.77 L480.20,277.79 L480.70,277.81 L481.20,277.83 L481.70,277.85 L482.20,277.87 L482.70,277.89 L483.20,277.91 L483.70,277.93 L483.80,277.93" stroke="#000" stroke-width="1.7" stroke-dasharray="2.2500 1.5394"/>
</g>
<g opacity="0.999"><text x="32.51" y="39.22" style="font-family:&quot;Liberation Sans&quot;,sans-serif;font-size:19.5px" fill="#000">2</text><text x="43.35" y="39.22" style="font-family:&quot;Liberation Sans&quot;,sans-serif;font-size:19.5px" fill="#000">.</text><text x="48.77" y="39.22" style="font-family:&quot;Liberation Sans&quot;,sans-serif;font-size:19.5px" fill="#000">5</text><text x="32.45" y="108.07" style="font-family:&quot;Liberation Sans&quot;,sans-serif;font-size:19.5px" fill="#000">2</text><text x="43.30" y="108.07" style="font-family:&quot;Liberation Sans&quot;,sans-serif;font-size:19.5px" fill="#000">.</text><text x="48.72" y="108.07" style="font-family:&quot;Liberation Sans&quot;,sans-serif;font-size:19.5px" fill="#000">0</text><path d="M763 0H583V1147Q518 1085 412.5 1023T223 930V1104Q374 1175 487 1276T647 1472H763Z" transform="translate(32.51,176.92) scale(0.00952,-0.00952)" fill="#000"/><text x="43.35" y="176.92" style="font-family:&quot;Liberation Sans&quot;,sans-serif;font-size:19.5px" fill="#000">.</text><text x="48.77" y="176.92" style="font-family:&quot;Liberation Sans&quot;,sans-serif;font-size:19.5px" fill="#000">5</text><path d="M763 0H583V1147Q518 1085 412.5 1023T223 930V1104Q374 1175 487 1276T647 1472H763Z" transform="translate(32.45,245.77) scale(0.00952,-0.00952)" fill="#000"/><text x="43.30" y="245.77" style="font-family:&quot;Liberation Sans&quot;,sans-serif;font-size:19.5px" fill="#000">.</text><text x="48.72" y="245.77" style="font-family:&quot;Liberation Sans&quot;,sans-serif;font-size:19.5px" fill="#000">0</text><path d="M763 0H583V1147Q518 1085 412.5 1023T223 930V1104Q374 1175 487 1276T647 1472H763Z" transform="translate(65.48,306.50) scale(0.00952,-0.00952)" fill="#000"/><text x="111.25" y="306.50" style="font-family:&quot;Liberation Sans&quot;,sans-serif;font-size:19.5px" fill="#000">2</text><text x="157.02" y="306.50" style="font-family:&quot;Liberation Sans&quot;,sans-serif;font-size:19.5px" fill="#000">3</text><text x="202.79" y="306.50" style="font-family:&quot;Liberation Sans&quot;,sans-serif;font-size:19.5px" fill="#000">4</text><text x="248.56" y="306.50" style="font-family:&quot;Liberation Sans&quot;,sans-serif;font-size:19.5px" fill="#000">5</text><text x="294.33" y="306.50" style="font-family:&quot;Liberation Sans&quot;,sans-serif;font-size:19.5px" fill="#000">6</text><text x="340.10" y="306.50" style="font-family:&quot;Liberation Sans&quot;,sans-serif;font-size:19.5px" fill="#000">7</text><text x="385.87" y="306.50" style="font-family:&quot;Liberation Sans&quot;,sans-serif;font-size:19.5px" fill="#000">8</text><text x="431.64" y="306.50" style="font-family:&quot;Liberation Sans&quot;,sans-serif;font-size:19.5px" fill="#000">9</text><path d="M763 0H583V1147Q518 1085 412.5 1023T223 930V1104Q374 1175 487 1276T647 1472H763Z" transform="translate(471.34,306.50) scale(0.00952,-0.00952)" fill="#000"/><text x="482.18" y="306.50" style="font-family:&quot;Liberation Sans&quot;,sans-serif;font-size:19.5px" fill="#000">0</text></g>
<g opacity="0.999"><text transform="translate(152.51,147.60) scale(0.8752,1)" style="font-family:&quot;Liberation Serif&quot;,serif;font-size:15.8px" fill="#0000ff" stroke="#0000ff" stroke-width="0.3">m</text><text transform="translate(166.42,149.10) scale(0.9929,1)" style="font-family:&quot;Liberation Serif&quot;,serif;font-size:15.8px" fill="#0000ff" stroke="#0000ff" stroke-width="0">=</text><text transform="translate(175.97,147.60) scale(0.8986,1)" style="font-family:&quot;Liberation Serif&quot;,serif;font-size:15.8px" fill="#0000ff" stroke="#0000ff" stroke-width="0.3">4</text><text transform="translate(189.50,147.60) scale(1.0079,1)" style="font-family:&quot;Liberation Serif&quot;,serif;font-size:15.8px" fill="#0000ff" stroke="#0000ff" stroke-width="0.3">G</text><text transform="translate(200.78,147.60) scale(0.9234,1)" style="font-family:&quot;Liberation Serif&quot;,serif;font-size:15.8px" fill="#0000ff" stroke="#0000ff" stroke-width="0.3">e</text><text transform="translate(208.90,147.60) scale(0.8503,1)" style="font-family:&quot;Liberation Serif&quot;,serif;font-size:15.8px" fill="#0000ff" stroke="#0000ff" stroke-width="0.3">V</text><text transform="translate(381.96,243.90) scale(0.8624,1)" style="font-family:&quot;Liberation Serif&quot;,serif;font-size:15.8px" fill="#ff1a00" stroke="#ff1a00" stroke-width="0.3">m</text><text transform="translate(395.58,245.40) scale(1.0473,1)" style="font-family:&quot;Liberation Serif&quot;,serif;font-size:15.8px" fill="#ff1a00" stroke="#ff1a00" stroke-width="0">=</text><text transform="translate(405.49,243.90) scale(0.8249,1)" style="font-family:&quot;Liberation Serif&quot;,serif;font-size:15.8px" fill="#ff1a00" stroke="#ff1a00" stroke-width="0.3">5</text><text transform="translate(418.01,243.90) scale(0.9933,1)" style="font-family:&quot;Liberation Serif&quot;,serif;font-size:15.8px" fill="#ff1a00" stroke="#ff1a00" stroke-width="0.3">G</text><text transform="translate(429.42,243.90) scale(0.855,1)" style="font-family:&quot;Liberation Serif&quot;,serif;font-size:15.8px" fill="#ff1a00" stroke="#ff1a00" stroke-width="0.3">e</text><text transform="translate(437.50,243.90) scale(0.8322,1)" style="font-family:&quot;Liberation Serif&quot;,serif;font-size:15.8px" fill="#ff1a00" stroke="#ff1a00" stroke-width="0.3">V</text><text transform="translate(101.07,271.60) scale(0.8411,1)" style="font-family:&quot;Liberation Serif&quot;,serif;font-size:15.8px" fill="#000" stroke="#000" stroke-width="0.3">m</text><text transform="translate(114.73,273.10) scale(0.9793,1)" style="font-family:&quot;Liberation Serif&quot;,serif;font-size:15.8px" fill="#000" stroke="#000" stroke-width="0">=</text><text transform="translate(124.27,271.60) scale(0.9557,1)" style="font-family:&quot;Liberation Serif&quot;,serif;font-size:15.8px" fill="#000" stroke="#000" stroke-width="0.3">0</text></g>
<g opacity="0.999"><text transform="translate(239.21,334.10) scale(0.8613,0.9177)" style="font-family:'Liberation Sans',sans-serif;font-style:italic;font-size:20px" fill="#000">k</text><text transform="translate(248.44,337.65) scale(0.6585,0.6624)" style="font-family:'Liberation Sans',sans-serif;font-style:normal;font-size:20px" fill="#000">2</text><text transform="translate(263.00,333.89) scale(0.9812,0.8690)" style="font-family:'Liberation Sans',sans-serif;font-style:normal;font-size:20px" fill="#000">[</text><text transform="translate(269.47,334.26) scale(0.9267,0.9640)" style="font-family:'Liberation Sans',sans-serif;font-style:normal;font-size:20px" fill="#000">G</text><text transform="translate(284.62,334.27) scale(0.9164,0.9263)" style="font-family:'Liberation Sans',sans-serif;font-style:normal;font-size:20px" fill="#000">e</text><text transform="translate(295.32,334.25) scale(0.8964,0.9775)" style="font-family:'Liberation Sans',sans-serif;font-style:normal;font-size:20px" fill="#000">V</text><text transform="translate(309.15,333.89) scale(0.9561,0.8690)" style="font-family:'Liberation Sans',sans-serif;font-style:normal;font-size:20px" fill="#000">]</text></g>
<g opacity="0.999" transform="translate(19.5,219.5) rotate(-90)"><text transform="translate(0.19,-0.20) scale(0.9217,0.9177)" style="font-family:'Liberation Sans',sans-serif;font-style:italic;font-size:20px" fill="#000">h</text><text transform="translate(10.48,3.60) scale(0.6303,0.6509)" style="font-family:'Liberation Sans',sans-serif;font-style:italic;font-size:20px" fill="#000">q</text><text transform="translate(18.45,-0.29) scale(0.8486,0.8426)" style="font-family:'Liberation Sans',sans-serif;font-style:normal;font-size:20px" fill="#000">(</text><text transform="translate(25.73,-0.20) scale(0.8280,0.9177)" style="font-family:'Liberation Sans',sans-serif;font-style:italic;font-size:20px" fill="#000">k</text><text transform="translate(34.40,3.50) scale(0.6914,0.6982)" style="font-family:'Liberation Sans',sans-serif;font-style:normal;font-size:20px" fill="#000">2</text><text transform="translate(43.60,-0.29) scale(0.8298,0.8426)" style="font-family:'Liberation Sans',sans-serif;font-style:normal;font-size:20px" fill="#000">)</text><line x1="52.5" x2="52.5" y1="-14.4" y2="5.5" stroke="#000" stroke-width="1.5"/><text transform="translate(55.62,3.62) scale(0.6233,0.6843)" style="font-family:'Liberation Sans',sans-serif;font-style:normal;font-size:20px" fill="#000">finite</text><line x1="83.95" y1="2.1" x2="88.25" y2="-12.1" stroke="#000" stroke-width="1.3"/><text transform="translate(92.40,-0.20) scale(0.9116,0.9177)" style="font-family:'Liberation Sans',sans-serif;font-style:italic;font-size:20px" fill="#000">h</text><text transform="translate(102.26,-9.28) scale(0.6789,0.6226)" style="font-family:'Liberation Sans',sans-serif;font-style:normal;font-size:20px" fill="#000">(</text><text transform="translate(109.22,-8.84) scale(0.6171,0.6921)" style="font-family:'Liberation Sans',sans-serif;font-style:normal;font-size:20px" fill="#000">0</text><text transform="translate(116.82,-9.28) scale(0.6600,0.6226)" style="font-family:'Liberation Sans',sans-serif;font-style:normal;font-size:20px" fill="#000">)</text><text transform="translate(122.65,-0.29) scale(0.8486,0.8426)" style="font-family:'Liberation Sans',sans-serif;font-style:normal;font-size:20px" fill="#000">(</text><text transform="translate(130.64,-0.20) scale(0.7899,0.9177)" style="font-family:'Liberation Sans',sans-serif;font-style:italic;font-size:20px" fill="#000">k</text><text transform="translate(139.00,3.50) scale(0.6914,0.6982)" style="font-family:'Liberation Sans',sans-serif;font-style:normal;font-size:20px" fill="#000">2</text><text transform="translate(147.80,-0.29) scale(0.8298,0.8426)" style="font-family:'Liberation Sans',sans-serif;font-style:normal;font-size:20px" fill="#000">)</text></g>
</svg>
</body></html>
